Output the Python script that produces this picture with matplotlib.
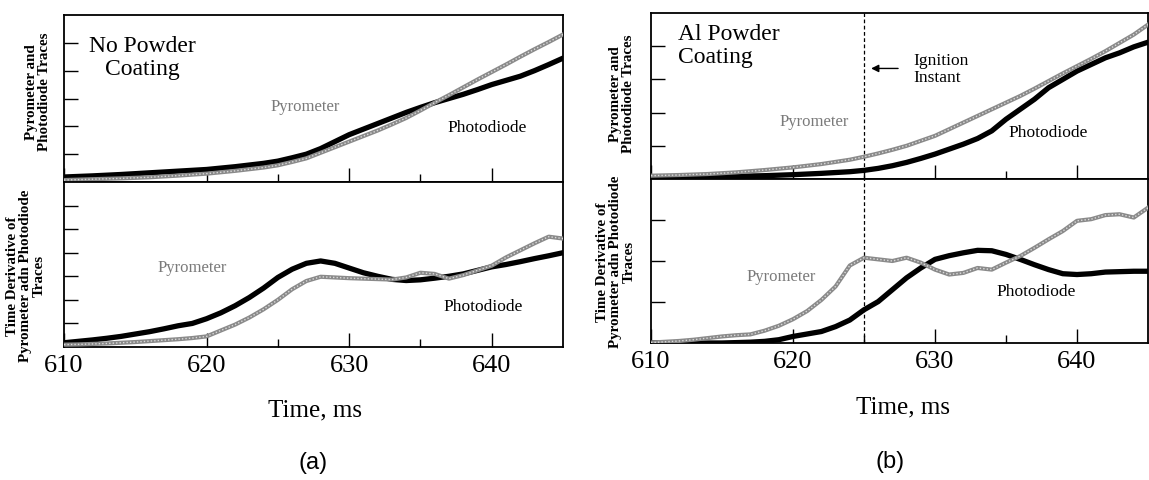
import matplotlib.pyplot as plt

plt.rcParams['font.family'] = ['Liberation Serif', 'DejaVu Serif']

# time axis (ms) for the traces
t_a = [610, 612, 614, 616, 618, 620, 622, 624, 625, 626, 627, 628, 629, 630,
       631, 632, 633, 634, 635, 636, 637, 638, 639, 640, 641, 642, 643, 644, 645]

# (a) no powder coating, raw traces
pyro_a = [0.07, 0.1, 0.13, 0.17, 0.23, 0.3, 0.4, 0.52, 0.6, 0.72, 0.85, 1.05, 1.25, 1.45,
          1.65, 1.85, 2.07, 2.3, 2.57, 2.85, 3.12, 3.4, 3.68, 3.95, 4.22, 4.5, 4.77, 5.03, 5.3]
phot_a = [0.18, 0.22, 0.27, 0.33, 0.39, 0.45, 0.55, 0.67, 0.75, 0.87, 1.0, 1.2, 1.45, 1.7,
          1.9, 2.1, 2.3, 2.5, 2.68, 2.85, 3.0, 3.15, 3.32, 3.5, 3.65, 3.8, 4.0, 4.22, 4.45]

# (a) time derivatives
t_da = list(range(610, 646))
dpyro_a = [0.1, 0.11, 0.13, 0.15, 0.18, 0.21, 0.25, 0.29, 0.33, 0.38, 0.45, 0.7, 0.95, 1.25,
           1.6, 2.0, 2.45, 2.8, 2.98, 2.95, 2.92, 2.9, 2.88, 2.86, 2.95, 3.15, 3.1, 2.9,
           3.05, 3.25, 3.45, 3.8, 4.1, 4.4, 4.68, 4.6]
dphot_a = [0.18, 0.24, 0.3, 0.37, 0.45, 0.55, 0.65, 0.77, 0.9, 1.0, 1.2, 1.45, 1.75, 2.1,
           2.5, 2.95, 3.3, 3.55, 3.65, 3.55, 3.35, 3.15, 3.0, 2.87, 2.82, 2.85, 2.92, 3.0,
           3.1, 3.25, 3.4, 3.5, 3.62, 3.75, 3.87, 4.0]

# (b) Al powder coating, raw traces
t_b = [610, 612, 614, 616, 618, 620, 622, 624, 625, 626, 627, 628, 629, 630, 631, 632,
       633, 634, 635, 636, 637, 638, 639, 640, 641, 642, 643, 644, 645]
pyro_b = [0.1, 0.12, 0.15, 0.2, 0.27, 0.35, 0.45, 0.58, 0.67, 0.77, 0.88, 1.0, 1.15, 1.3,
          1.5, 1.7, 1.9, 2.1, 2.3, 2.5, 2.72, 2.95, 3.18, 3.4, 3.62, 3.85, 4.1, 4.35, 4.65]
phot_b = [0.05, 0.06, 0.07, 0.08, 0.1, 0.13, 0.17, 0.22, 0.26, 0.32, 0.4, 0.5, 0.62, 0.75,
          0.9, 1.05, 1.22, 1.45, 1.8, 2.1, 2.4, 2.75, 3.0, 3.25, 3.45, 3.65, 3.8, 3.98, 4.12]

# (b) time derivatives
t_db = list(range(610, 646))
dpyro_b = [0.01, 0.03, 0.05, 0.08, 0.12, 0.16, 0.19, 0.21, 0.3, 0.42, 0.58, 0.78, 1.05,
           1.38, 1.89, 2.08, 2.04, 2.0, 2.08, 1.96, 1.79, 1.67, 1.71, 1.83, 1.79, 1.96,
           2.12, 2.32, 2.53, 2.73, 2.98, 3.02, 3.12, 3.14, 3.06, 3.3]
dphot_b = [0.0, 0.0, 0.0, 0.0, 0.0, 0.0, 0.01, 0.02, 0.04, 0.08, 0.16, 0.22, 0.28, 0.4,
           0.56, 0.81, 1.01, 1.3, 1.59, 1.83, 2.04, 2.13, 2.2, 2.26, 2.25, 2.16, 2.04,
           1.91, 1.79, 1.69, 1.67, 1.69, 1.73, 1.74, 1.75, 1.75]

ignition = 625
W, H = 1149, 480


def box(l, t, r, b):
    return [l / W, 1 - b / H, (r - l) / W, (b - t) / H]


def traces(ax, t, pyro, phot):
    ax.plot(t, phot, color='black', lw=3.8, solid_capstyle='round',
            solid_joinstyle='round', zorder=3)
    ax.plot(t, pyro, color='#8a8a8a', lw=3.0, solid_joinstyle='round', zorder=4)
    ax.plot(t, pyro, color='#dadada', lw=1.0, ls=(0, (1, 1.5)), zorder=5)


def style(ax, ymax, labels):
    ax.set_xlim(610, 645)
    ax.set_ylim(0, ymax)
    ax.set_yticks(range(1, ymax))
    ax.set_xticks([610, 620, 630, 640])
    ax.set_xticks([625, 635], minor=True)
    ax.tick_params(axis='both', which='major', direction='in', length=10, width=1,
                   labelsize=19, pad=6, labelleft=False, labelbottom=labels)
    ax.tick_params(axis='x', which='minor', direction='in', length=6, width=1)
    for s in ax.spines.values():
        s.set_linewidth(1.3)


fig = plt.figure(figsize=(W / 100, H / 100), dpi=100)

ax1 = fig.add_axes(box(64, 15, 563, 182))
ax2 = fig.add_axes(box(64, 182, 563, 347))
ax3 = fig.add_axes(box(651, 13, 1148, 179))
ax4 = fig.add_axes(box(651, 179, 1148, 343))

traces(ax1, t_a, pyro_a, phot_a)
traces(ax2, t_da, dpyro_a, dphot_a)
traces(ax3, t_b, pyro_b, phot_b)
traces(ax4, t_db, dpyro_b, dphot_b)

style(ax1, 6, False)
style(ax2, 7, True)
style(ax3, 5, False)
style(ax4, 4, True)

for ax in (ax3, ax4):
    ax.axvline(ignition, color='black', lw=0.9, ls=(0, (3, 2)), zorder=2)

gray = '#7a7a7a'
ax1.text(615.5, 4.45, 'No Powder\nCoating', fontsize=17, ha='center', va='center',
         multialignment='center', linespacing=1.15)
ax1.text(626.9, 2.69, 'Pyrometer', fontsize=12, color=gray, ha='center', va='center')
ax1.text(639.7, 1.94, 'Photodiode', fontsize=12.5, ha='center', va='center')
ax2.text(619.0, 3.35, 'Pyrometer', fontsize=12, color=gray, ha='center', va='center')
ax2.text(639.4, 1.70, 'Photodiode', fontsize=12.5, ha='center', va='center')

ax3.text(611.9, 4.0, 'Al Powder\nCoating', fontsize=17, ha='left', va='center',
         linespacing=1.1)
ax3.text(621.5, 1.73, 'Pyrometer', fontsize=12, color=gray, ha='center', va='center')
ax3.text(637.96, 1.39, 'Photodiode', fontsize=12.5, ha='center', va='center')
ax3.text(628.5, 3.3, 'Ignition\nInstant', fontsize=12.5, ha='left', va='center',
         linespacing=1.1)
ax3.annotate('', xy=(625.5, 3.33), xytext=(627.4, 3.33),
             arrowprops=dict(arrowstyle='-|>', color='black', lw=1.0,
                             mutation_scale=11, shrinkA=0, shrinkB=0))
ax4.text(619.2, 1.62, 'Pyrometer', fontsize=12, color=gray, ha='center', va='center')
ax4.text(637.1, 1.25, 'Photodiode', fontsize=12.5, ha='center', va='center')

lab = dict(rotation=90, ha='center', va='center', fontsize=10.8, fontweight='bold',
           linespacing=1.0)
fig.text(38 / W, 1 - 92 / H, 'Pyrometer and\nPhotodiode Traces', **lab)
fig.text(26 / W, 1 - 276 / H, 'Time Derivative of\nPyrometer adn Photodiode\nTraces', **lab)
fig.text(622 / W, 1 - 94 / H, 'Pyrometer and\nPhotodiode Traces', **lab)
fig.text(616 / W, 1 - 262 / H, 'Time Derivative of\nPyrometer adn Photodiode\nTraces', **lab)

fig.text(315 / W, 1 - 410 / H, 'Time, ms', fontsize=18, ha='center', va='center')
fig.text(903 / W, 1 - 407 / H, 'Time, ms', fontsize=18, ha='center', va='center')
fig.text(313 / W, 1 - 463 / H, '(a)', fontsize=17, ha='center', va='center',
         family='Liberation Sans')
fig.text(890 / W, 1 - 462 / H, '(b)', fontsize=17, ha='center', va='center',
         family='Liberation Sans')

fig.savefig('out.png', dpi=100)
